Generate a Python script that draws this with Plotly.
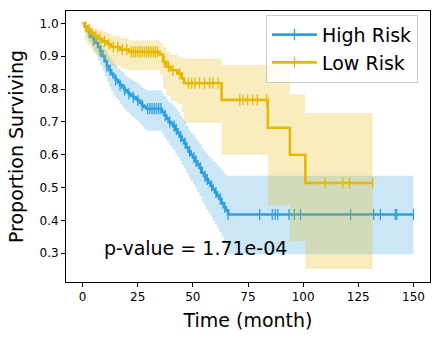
import numpy as np
import plotly.graph_objects as go

## Kaplan-Meier estimates (step times, survival, 95% CI)
high_t = [0, 1, 2, 3, 4, 5, 6, 7, 8, 9, 10, 11, 12, 13, 14, 15, 16, 17, 18, 19, 20,
          21, 22, 23, 24, 25, 26, 27, 28, 29, 36, 37, 38, 39, 40, 41, 42, 43, 44, 45,
          46, 47, 48, 49, 50, 51, 52, 53, 54, 55, 56, 57, 58, 59, 60, 61, 62, 63, 64,
          65, 66]
high_s = [1.0, 0.99, 0.98, 0.97, 0.96, 0.95, 0.94, 0.928, 0.915, 0.9, 0.885, 0.87,
          0.857, 0.846, 0.836, 0.828, 0.82, 0.812, 0.805, 0.797, 0.79, 0.785, 0.78,
          0.775, 0.77, 0.765, 0.758, 0.75, 0.745, 0.74, 0.73, 0.72, 0.71, 0.70, 0.695,
          0.687, 0.677, 0.667, 0.655, 0.645, 0.635, 0.622, 0.61, 0.60, 0.592, 0.58,
          0.57, 0.56, 0.545, 0.535, 0.525, 0.515, 0.505, 0.495, 0.485, 0.475, 0.465,
          0.452, 0.44, 0.43, 0.418]
high_lo = [1.0, 0.972, 0.956, 0.942, 0.928, 0.915, 0.902, 0.887, 0.872, 0.855, 0.838,
           0.821, 0.806, 0.793, 0.782, 0.773, 0.764, 0.755, 0.747, 0.738, 0.73, 0.724,
           0.718, 0.712, 0.707, 0.701, 0.693, 0.685, 0.679, 0.673, 0.663, 0.652, 0.641,
           0.630, 0.624, 0.615, 0.604, 0.593, 0.58, 0.569, 0.558, 0.544, 0.531, 0.52,
           0.511, 0.497, 0.486, 0.474, 0.457, 0.446, 0.434, 0.423, 0.411, 0.4, 0.388,
           0.376, 0.364, 0.35, 0.336, 0.323, 0.297]
high_hi = [1.0, 0.998, 0.993, 0.986, 0.979, 0.971, 0.963, 0.954, 0.944, 0.932, 0.92,
           0.907, 0.896, 0.886, 0.877, 0.87, 0.863, 0.856, 0.85, 0.843, 0.837, 0.833,
           0.829, 0.825, 0.821, 0.817, 0.811, 0.804, 0.8, 0.796, 0.787, 0.778, 0.769,
           0.76, 0.756, 0.749, 0.74, 0.731, 0.72, 0.711, 0.701, 0.688, 0.676, 0.667,
           0.66, 0.649, 0.64, 0.632, 0.619, 0.611, 0.603, 0.595, 0.588, 0.581, 0.576,
           0.569, 0.561, 0.552, 0.543, 0.537, 0.536]
high_end = 150
high_cens = [3, 5, 8, 11, 12.5, 15, 17, 19, 21, 23, 25, 27, 29.5, 30.5, 31.5, 32.5,
             33.5, 34.5, 35.5, 37.5, 39.5, 41.5, 42.5, 44.5, 46.5, 48.5, 50.5, 51.5,
             53.5, 55.5, 56.5, 58.5, 60.5, 62.5, 64.5, 66, 80.3, 86, 87.3, 88.5, 93.6,
             96, 98.8, 121.5, 132, 135, 141.7, 142.4, 150]

low_t = [0, 1, 2, 4, 5, 7, 9, 11, 13, 17, 21, 35, 36.5, 38, 40, 43, 45, 46, 63, 84,
         94, 101]
low_s = [1.0, 0.99, 0.98, 0.97, 0.962, 0.953, 0.945, 0.937, 0.928, 0.92, 0.913, 0.905,
         0.883, 0.868, 0.857, 0.847, 0.832, 0.818, 0.767, 0.682, 0.60, 0.514]
low_lo = [1.0, 0.95, 0.935, 0.92, 0.91, 0.9, 0.89, 0.88, 0.87, 0.862, 0.857, 0.845,
          0.8, 0.78, 0.762, 0.755, 0.73, 0.697, 0.60, 0.446, 0.337, 0.252]
low_hi = [1.0, 0.999, 0.996, 0.99, 0.985, 0.98, 0.975, 0.97, 0.962, 0.955, 0.948,
          0.94, 0.928, 0.915, 0.905, 0.898, 0.895, 0.893, 0.873, 0.873, 0.783, 0.727]
low_end = 131.5
low_cens = [1.5, 3, 6, 8, 10, 12, 14, 16, 18, 20, 22, 23, 24, 25, 26, 27, 28, 29, 30,
            31, 32, 33, 34, 37, 39, 41, 44, 48, 49.5, 51, 53, 55.3, 57.6, 59.1, 61.4,
            71.3, 72.8, 74.8, 77.1, 79.2, 83.4, 110, 118, 121, 131.5]

pvalue_text = "p-value = 1.71e-04"

BLUE = "#2E9FDF"
YELLOW = "#E7B800"
FONT = "DejaVu Sans"


def step_arrays(t, v, end):
    ## extend the last step to the end of follow-up
    return list(t) + [end], list(v) + [v[-1]]


def surv_at(t, s, times):
    idx = np.searchsorted(np.array(t), np.array(times), side="right") - 1
    return np.array(s)[idx]


fig = go.Figure()

groups = [("High Risk", high_t, high_s, high_lo, high_hi, high_end, high_cens, BLUE, "rgba(46,159,223,0.25)"),
          ("Low Risk", low_t, low_s, low_lo, low_hi, low_end, low_cens, YELLOW, "rgba(231,184,0,0.25)")]

for name, t, s, lo, hi, end, cens, col, fillcol in groups:
    tx, lo_y = step_arrays(t, lo, end)
    _, hi_y = step_arrays(t, hi, end)
    _, s_y = step_arrays(t, s, end)
    fig.add_trace(go.Scatter(x=tx, y=lo_y, mode="lines", line=dict(width=0, shape="hv"),
                             showlegend=False, hoverinfo="skip"))
    fig.add_trace(go.Scatter(x=tx, y=hi_y, mode="lines", line=dict(width=0, shape="hv"),
                             fill="tonexty", fillcolor=fillcol, showlegend=False, hoverinfo="skip"))
    fig.add_trace(go.Scatter(x=tx, y=s_y, mode="lines", line=dict(color=col, width=2.6, shape="hv"),
                             showlegend=False))
    fig.add_trace(go.Scatter(x=cens, y=surv_at(t, s, cens), mode="markers",
                             marker=dict(symbol="line-ns", size=8, line=dict(color=col, width=1.3)),
                             showlegend=False))
    ## legend entry: line with a '+' censor mark
    fig.add_trace(go.Scatter(x=[None], y=[None], mode="lines+markers", name=name,
                             line=dict(color=col, width=2.6),
                             marker=dict(symbol="line-ns", size=8, color=col, line=dict(color=col, width=1.3))))

fig.add_annotation(x=9, y=0.316, text=pvalue_text, showarrow=False, xanchor="left", yanchor="middle",
                   font=dict(family=FONT, size=19, color="black"))

axis_common = dict(showline=True, linecolor="black", linewidth=1, mirror=True, ticks="outside",
                   ticklen=4, tickcolor="black", showgrid=False, zeroline=False, automargin=False,
                   tickfont=dict(family=FONT, size=12, color="black"))

fig.update_xaxes(range=[-7.5, 157.5], tickvals=[0, 25, 50, 75, 100, 125, 150],
                 title=dict(text="Time (month)", font=dict(family=FONT, size=19, color="black"), standoff=10),
                 **axis_common)
fig.update_yaxes(range=[0.2125, 1.0375], tickvals=[0.3, 0.4, 0.5, 0.6, 0.7, 0.8, 0.9, 1.0],
                 tickformat=".1f",
                 title=dict(text="Proportion Surviving", font=dict(family=FONT, size=19, color="black"), standoff=10),
                 **axis_common)

fig.update_layout(width=439, height=340, plot_bgcolor="white", paper_bgcolor="white",
                  margin=dict(l=66, r=9, t=11, b=58),
                  font=dict(family=FONT, color="black"),
                  legend=dict(x=0.967, y=0.986, xanchor="right", yanchor="top", traceorder="normal",
                              bgcolor="rgba(255,255,255,0.8)", bordercolor="#cccccc", borderwidth=1,
                              font=dict(family=FONT, size=19, color="black"),
                              tracegroupgap=0, itemwidth=45))

## drop the browser's default body margin so the figure sits at the page corner
fig.write_html("out.html", config={"displayModeBar": False},
               post_script="document.body.style.margin='0';")
